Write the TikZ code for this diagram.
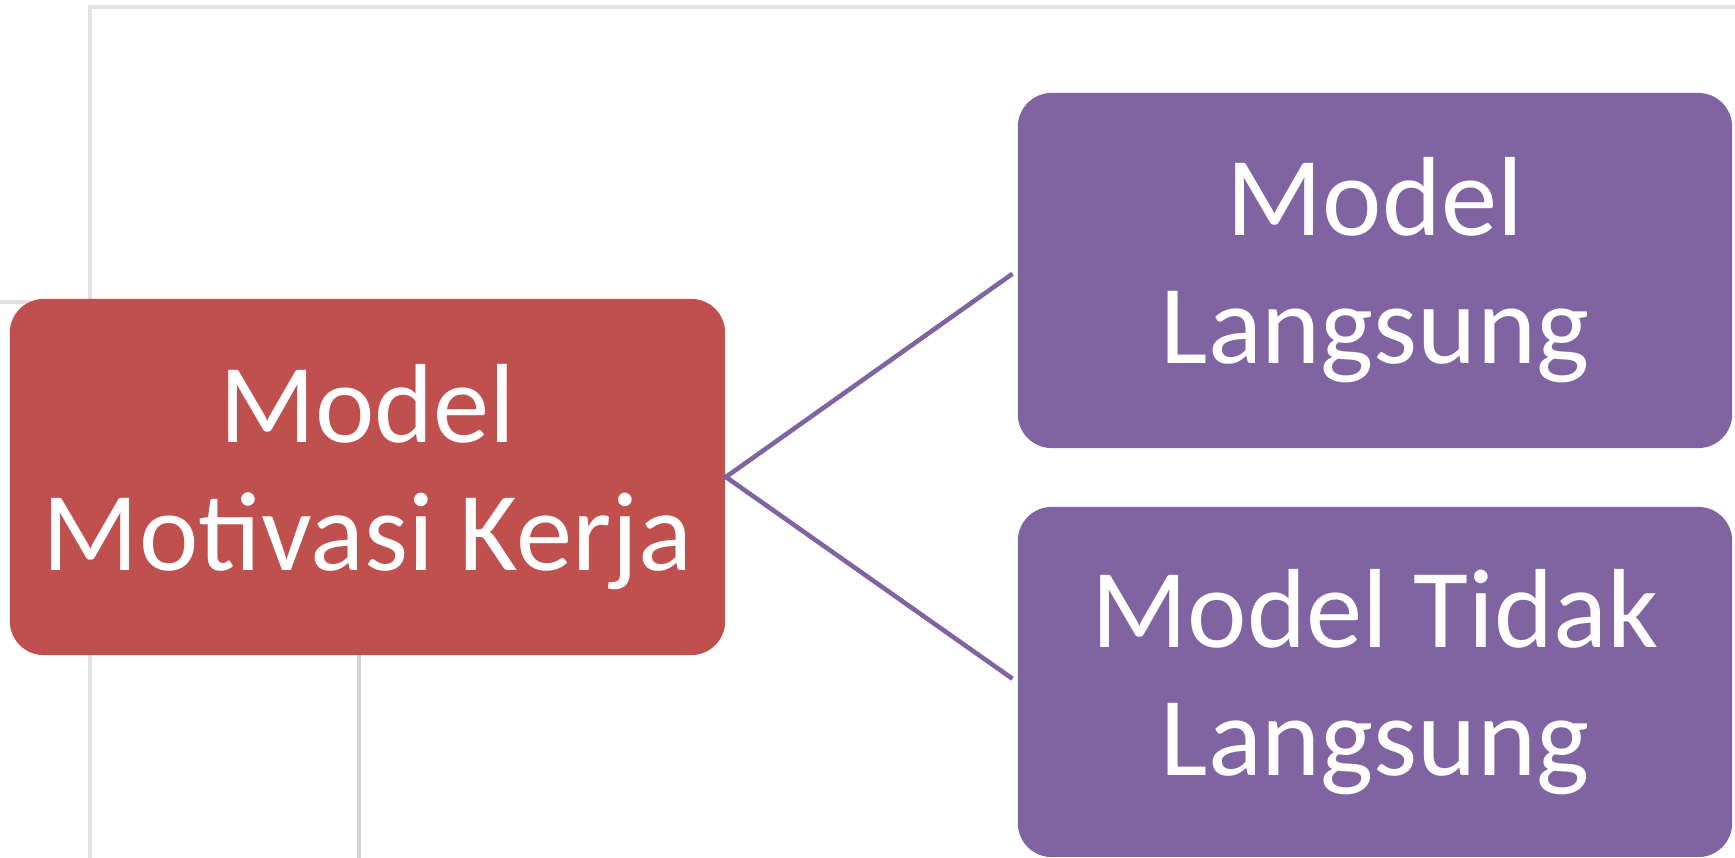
\documentclass[tikz,border=0pt]{standalone}
\usepackage{fontspec}
\setmainfont{Carlito}
\definecolor{redbox}{HTML}{C0504D}
\definecolor{purplebox}{HTML}{8064A2}
\definecolor{gridgray}{HTML}{E2E2E2}
\definecolor{gridgraydark}{HTML}{D2D2D2}
\begin{document}
\begin{tikzpicture}[x=0.01cm,y=-0.01cm,
  box/.style={rounded corners=0.34cm, inner sep=0pt, text=white, align=center,
    font=\fontsize{32}{36.4}\selectfont},
  conn/.style={draw=purplebox, line width=1.3pt},
  grid/.style={draw=gridgray, line width=0.9pt}]
\useasboundingbox (0,0) rectangle (1735,858);
\fill[white] (0,0) rectangle (1735,858);
% background table lines
\draw[grid] (90,858) -- (90,7) -- (1735,7);
\draw[grid] (0,302) -- (30,302);
\draw[draw=gridgraydark, line width=0.9pt] (359,640) -- (359,858);
% nodes
\node[box, fill=redbox, minimum width=7.15cm, minimum height=3.56cm] (root) at (367.5,477) {Model\\Motivasi Kerja};
\node[box, fill=purplebox, minimum width=7.14cm, minimum height=3.55cm] (direct) at (1375,270.5) {\raisebox{-5pt}{}Model\\Langsung};
\node[box, fill=purplebox, minimum width=7.14cm, minimum height=3.50cm] (indirect) at (1375,682) {Model Tidak\\Langsung};
% connectors
\draw[conn, shorten >=1.6pt, shorten <=-0.5pt] (root.east) -- (direct.west);
\draw[conn, shorten >=1.6pt, shorten <=-0.5pt] (root.east) -- (indirect.west);
\end{tikzpicture}
\end{document}
